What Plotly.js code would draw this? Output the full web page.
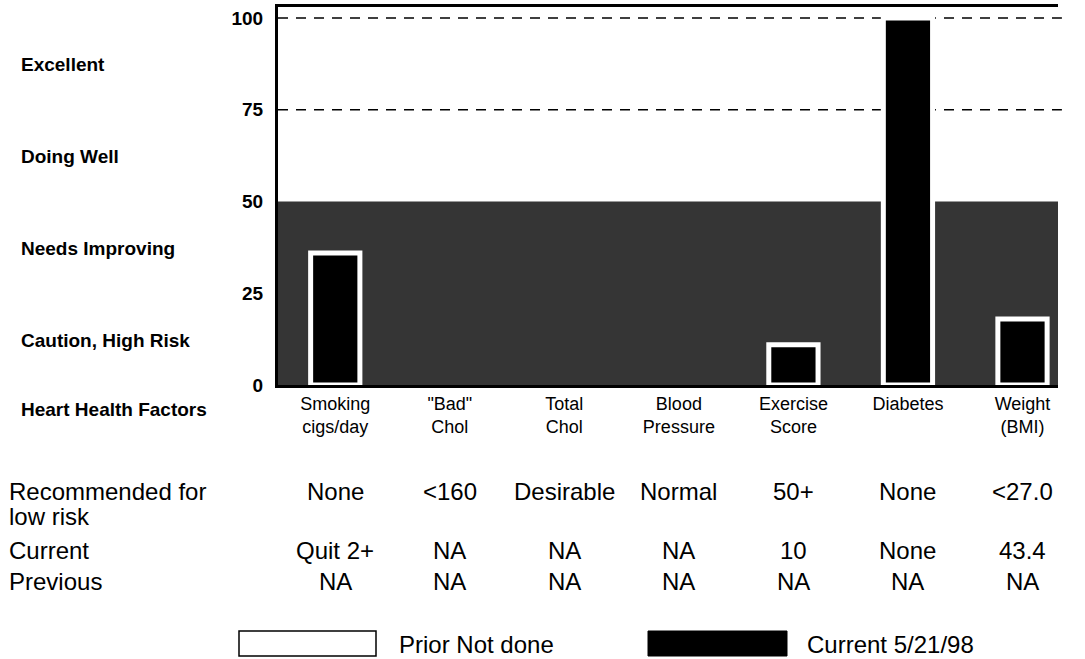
<!DOCTYPE html>
<html>
<head>
<meta charset="utf-8">
<script src="https://cdn.plot.ly/plotly-3.0.1.min.js"></script>
<style>html,body{margin:0;padding:0;background:#fff;}#chart{width:1085px;height:659px;}</style>
</head>
<body>
<div id="chart"></div>
<script>
// ---- data ----
var categories = ["Smoking", "Bad Chol", "Total Chol", "Blood Pressure", "Exercise Score", "Diabetes", "Weight (BMI)"];
var tickLabels = ["Smoking<br>cigs/day", "\"Bad\"<br>Chol", "Total<br>Chol", "Blood<br>Pressure", "Exercise<br>Score", "Diabetes", "Weight<br>(BMI)"];
var currentScores = [36, null, null, null, 11, 100, 18];
var zoneLabels = ["Excellent", "Doing Well", "Needs Improving", "Caution, High Risk"];
var zoneMid = [87.5, 62.5, 37.5, 12.5];
var yTicks = [0, 25, 50, 75, 100];
var recommended = ["None", "<160", "Desirable", "Normal", "50+", "None", "<27.0"];
var current = ["Quit 2+", "NA", "NA", "NA", "10", "None", "43.4"];
var previous = ["NA", "NA", "NA", "NA", "NA", "NA", "NA"];
var legendPrior = "Prior Not done";
var legendCurrent = "Current 5/21/98";

// ---- layout helpers ----
var FONT = "Liberation Sans, Arial, Helvetica, sans-serif";
var W = 1085, H = 659, ML = 278, MR = 27, MT = 7, MB = 274;
var plotW = W - ML - MR, plotH = H - MT - MB;
function px2paperX(px) { return (px - ML) / plotW; }
function px2paperY(py) { return (H - MB - py) / plotH; }

var annotations = [];
zoneLabels.forEach(function (t, i) {
  annotations.push({xref: "paper", yref: "y", x: px2paperX(19), y: zoneMid[i] - 0.3, xanchor: "left", yanchor: "middle",
    text: t, showarrow: false, font: {family: FONT, size: 19, color: "#000", weight: "bold"}});
});
annotations.push({xref: "paper", yref: "paper", x: px2paperX(19), y: px2paperY(409), xanchor: "left", yanchor: "middle",
  text: "Heart Health Factors", showarrow: false, font: {family: FONT, size: 19, color: "#000", weight: "bold"}});

var rows = [
  {label: "Recommended for", y: 491, vals: recommended},
  {label: "low risk", y: 516, vals: null},
  {label: "Current", y: 550, vals: current},
  {label: "Previous", y: 581, vals: previous}
];
rows.forEach(function (r) {
  annotations.push({xref: "paper", yref: "paper", x: px2paperX(7), y: px2paperY(r.y), xanchor: "left", yanchor: "middle",
    text: r.label, showarrow: false, font: {family: FONT, size: 24, color: "#000"}});
  if (r.vals) {
    r.vals.forEach(function (v, i) {
      annotations.push({xref: "x", yref: "paper", x: categories[i], y: px2paperY(r.y), xanchor: "center", yanchor: "middle",
        text: v.replace("<", "&lt;"), showarrow: false, font: {family: FONT, size: 24, color: "#000"}});
    });
  }
});
annotations.push({xref: "paper", yref: "paper", x: px2paperX(397), y: px2paperY(644), xanchor: "left", yanchor: "middle",
  text: legendPrior, showarrow: false, font: {family: FONT, size: 24, color: "#000"}});
annotations.push({xref: "paper", yref: "paper", x: px2paperX(805), y: px2paperY(644), xanchor: "left", yanchor: "middle",
  text: legendCurrent, showarrow: false, font: {family: FONT, size: 24, color: "#000"}});

var shapes = [
  // shaded "needs improving / caution" zone
  {type: "rect", xref: "paper", yref: "y", x0: 0, x1: 1, y0: 0, y1: 50, fillcolor: "#353535", line: {width: 0}, layer: "below"},
  // dashed zone lines
  {type: "line", xref: "paper", yref: "y", x0: 0, x1: 1.005, y0: 75, y1: 75, line: {color: "#000", width: 1.6, dash: "10px,8px"}, layer: "between"},
  {type: "line", xref: "paper", yref: "y", x0: 0, x1: 1.005, y0: 100, y1: 100, line: {color: "#000", width: 1.6, dash: "10px,8px"}, layer: "between"},
  // legend boxes
  {type: "rect", xref: "paper", yref: "paper", x0: px2paperX(239), x1: px2paperX(376), y0: px2paperY(656), y1: px2paperY(631),
    fillcolor: "#fff", line: {color: "#000", width: 1.5}},
  {type: "rect", xref: "paper", yref: "paper", x0: px2paperX(648), x1: px2paperX(787), y0: px2paperY(656), y1: px2paperY(631),
    fillcolor: "#000", line: {color: "#000", width: 1}}
];

var traces = [{
  type: "bar",
  x: categories,
  y: currentScores,
  width: 0.43,
  marker: {color: "#000", line: {color: "#fff", width: 5}},
  hoverinfo: "skip",
  showlegend: false
}];

var layout = {
  width: W, height: H,
  margin: {l: ML, r: MR, t: MT, b: MB, pad: 0},
  paper_bgcolor: "#fff", plot_bgcolor: "#fff",
  showlegend: false,
  bargap: 0,
  xaxis: {
    type: "category",
    range: [-0.5, 6.31],
    tickmode: "array", tickvals: categories, ticktext: tickLabels,
    ticks: "", showgrid: false, zeroline: false,
    showline: true, linecolor: "#000", linewidth: 3, mirror: true,
    tickfont: {family: FONT, size: 18, color: "#000"},
    ticklabelstandoff: 0,
    fixedrange: true
  },
  yaxis: {
    range: [0, 103],
    tickmode: "array", tickvals: yTicks,
    ticks: "", showgrid: false, zeroline: false,
    showline: true, linecolor: "#000", linewidth: 3,
    tickfont: {family: FONT, size: 19, color: "#000", weight: "bold"},
    ticklabelstandoff: 8,
    fixedrange: true
  },
  shapes: shapes,
  annotations: annotations
};

Plotly.newPlot("chart", traces, layout, {displayModeBar: false, staticPlot: true});
</script>
</body>
</html>
